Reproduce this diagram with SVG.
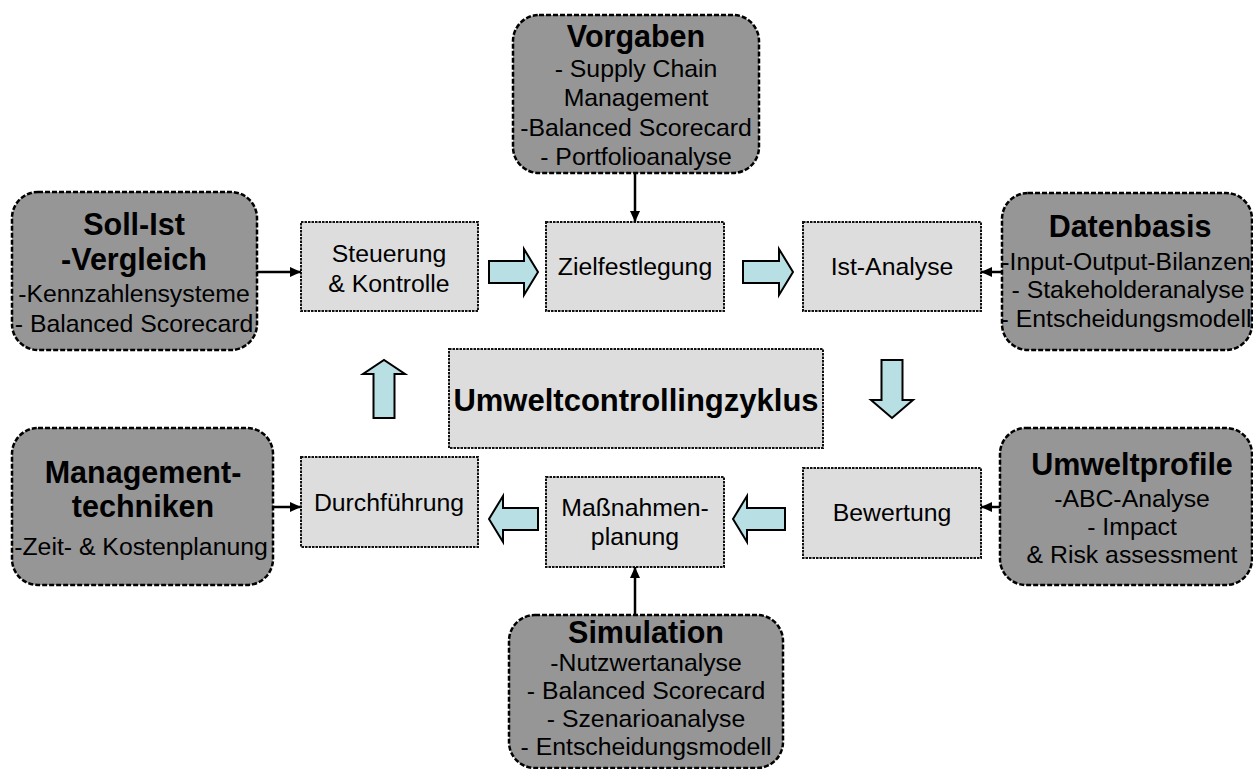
<svg xmlns="http://www.w3.org/2000/svg" width="1253" height="769" viewBox="0 0 1253 769">
  <defs>
    <style>
      .outer { fill: #969696; stroke: #000; stroke-width: 2.5; stroke-dasharray: 5 2; }
      .inner { fill: #dddddd; stroke: #111; stroke-width: 2; stroke-dasharray: 2.5 1; }
      .flow { fill: #b8e0e4; stroke: #000; stroke-width: 2; stroke-linejoin: miter; }
      .link { stroke: #000; stroke-width: 2.5; fill: none; }
      text { font-family: "Liberation Sans", Arial, sans-serif; fill: #000; text-anchor: middle; }
      .t { font-size: 30.5px; font-weight: bold; }
      .b { font-size: 24.8px; }
      .c { font-size: 31px; font-weight: bold; }
    </style>
    <marker id="head" markerUnits="userSpaceOnUse" markerWidth="12" markerHeight="12" refX="11" refY="6" orient="auto">
      <path d="M0,1 L11,6 L0,11 Z" fill="#000"/>
    </marker>
  </defs>
  <rect width="1253" height="769" fill="#fff"/>

  <!-- method boxes around the cycle -->
  <g id="vorgaben">
    <rect class="outer" x="513" y="15" width="246" height="158" rx="26"/>
    <text class="t" x="636" y="47">Vorgaben</text>
    <text class="b" x="636" y="77">- Supply Chain</text>
    <text class="b" x="636" y="106">Management</text>
    <text class="b" x="636" y="136">-Balanced Scorecard</text>
    <text class="b" x="636" y="165">- Portfolioanalyse</text>
  </g>
  <g id="soll-ist">
    <rect class="outer" x="12" y="192" width="245" height="158" rx="26"/>
    <text class="t" x="134" y="235">Soll-Ist</text>
    <text class="t" x="134" y="270">-Vergleich</text>
    <text class="b" x="134" y="302">-Kennzahlensysteme</text>
    <text class="b" x="134" y="332">- Balanced Scorecard</text>
  </g>
  <g id="datenbasis">
    <rect class="outer" x="1002" y="193" width="250" height="157" rx="26"/>
    <text class="t" x="1130" y="237">Datenbasis</text>
    <text class="b" x="1126" y="270">-Input-Output-Bilanzen</text>
    <text class="b" x="1128" y="298">- Stakeholderanalyse</text>
    <text class="b" x="1126" y="327">- Entscheidungsmodell</text>
  </g>
  <g id="managementtechniken">
    <rect class="outer" x="12" y="428" width="261" height="157" rx="26"/>
    <text class="t" x="143" y="483">Management-</text>
    <text class="t" x="143" y="517">techniken</text>
    <text class="b" x="141" y="555">-Zeit- &amp; Kostenplanung</text>
  </g>
  <g id="umweltprofile">
    <rect class="outer" x="1000" y="428" width="252" height="157" rx="26"/>
    <text class="t" x="1132" y="475">Umweltprofile</text>
    <text class="b" x="1132" y="507">-ABC-Analyse</text>
    <text class="b" x="1132" y="535">- Impact</text>
    <text class="b" x="1132" y="563">&amp; Risk assessment</text>
  </g>
  <g id="simulation">
    <rect class="outer" x="509" y="615" width="274" height="153" rx="26"/>
    <text class="t" x="646" y="643">Simulation</text>
    <text class="b" x="646" y="671">-Nutzwertanalyse</text>
    <text class="b" x="646" y="699">- Balanced Scorecard</text>
    <text class="b" x="646" y="727">- Szenarioanalyse</text>
    <text class="b" x="646" y="755">- Entscheidungsmodell</text>
  </g>

  <!-- cycle steps -->
  <g id="steuerung">
    <rect class="inner" x="301" y="222" width="177" height="89"/>
    <text class="b" x="389" y="262">Steuerung</text>
    <text class="b" x="389" y="292">&amp; Kontrolle</text>
  </g>
  <g id="zielfestlegung">
    <rect class="inner" x="546" y="222" width="178" height="89"/>
    <text class="b" x="635" y="275">Zielfestlegung</text>
  </g>
  <g id="ist-analyse">
    <rect class="inner" x="803" y="222" width="178" height="89"/>
    <text class="b" x="892" y="275">Ist-Analyse</text>
  </g>
  <g id="bewertung">
    <rect class="inner" x="803" y="468" width="178" height="90"/>
    <text class="b" x="892" y="521">Bewertung</text>
  </g>
  <g id="massnahmenplanung">
    <rect class="inner" x="546" y="477" width="178" height="90"/>
    <text class="b" x="635" y="516">Maßnahmen-</text>
    <text class="b" x="635" y="545">planung</text>
  </g>
  <g id="durchfuehrung">
    <rect class="inner" x="301" y="457" width="177" height="90"/>
    <text class="b" x="389" y="511">Durchführung</text>
  </g>
  <g id="zyklus">
    <rect class="inner" x="449" y="349" width="374" height="99"/>
    <text class="c" x="636" y="411">Umweltcontrollingzyklus</text>
  </g>

  <!-- connectors: cycle flow arrows and method links -->
  <g id="connectors">
    <path class="flow" d="M489,261 H524 V249 L538,272 L524,295 V283 H489 Z"/>
    <path class="flow" d="M743,261 H779 V249 L793,272 L779,295 V283 H743 Z"/>
    <path class="flow" d="M881.5,360 H902.5 V400 H913 L892,418 L871,400 H881.5 Z"/>
    <path class="flow" d="M785,508 H747 V496 L733,519 L747,542 V530 H785 Z"/>
    <path class="flow" d="M538,508 H503 V496 L489,519 L503,542 V530 H538 Z"/>
    <path class="flow" d="M373.5,418 V374 H363 L384,360 L405,374 H394.5 V418 Z"/>

    <line class="link" x1="635" y1="173" x2="635" y2="222" marker-end="url(#head)"/>
    <line class="link" x1="635" y1="615" x2="635" y2="567" marker-end="url(#head)"/>
    <line class="link" x1="257" y1="272" x2="301" y2="272" marker-end="url(#head)"/>
    <line class="link" x1="1002" y1="272" x2="981" y2="272" marker-end="url(#head)"/>
    <line class="link" x1="273" y1="507" x2="301" y2="507" marker-end="url(#head)"/>
    <line class="link" x1="1000" y1="507" x2="981" y2="507" marker-end="url(#head)"/>
  </g>
</svg>
